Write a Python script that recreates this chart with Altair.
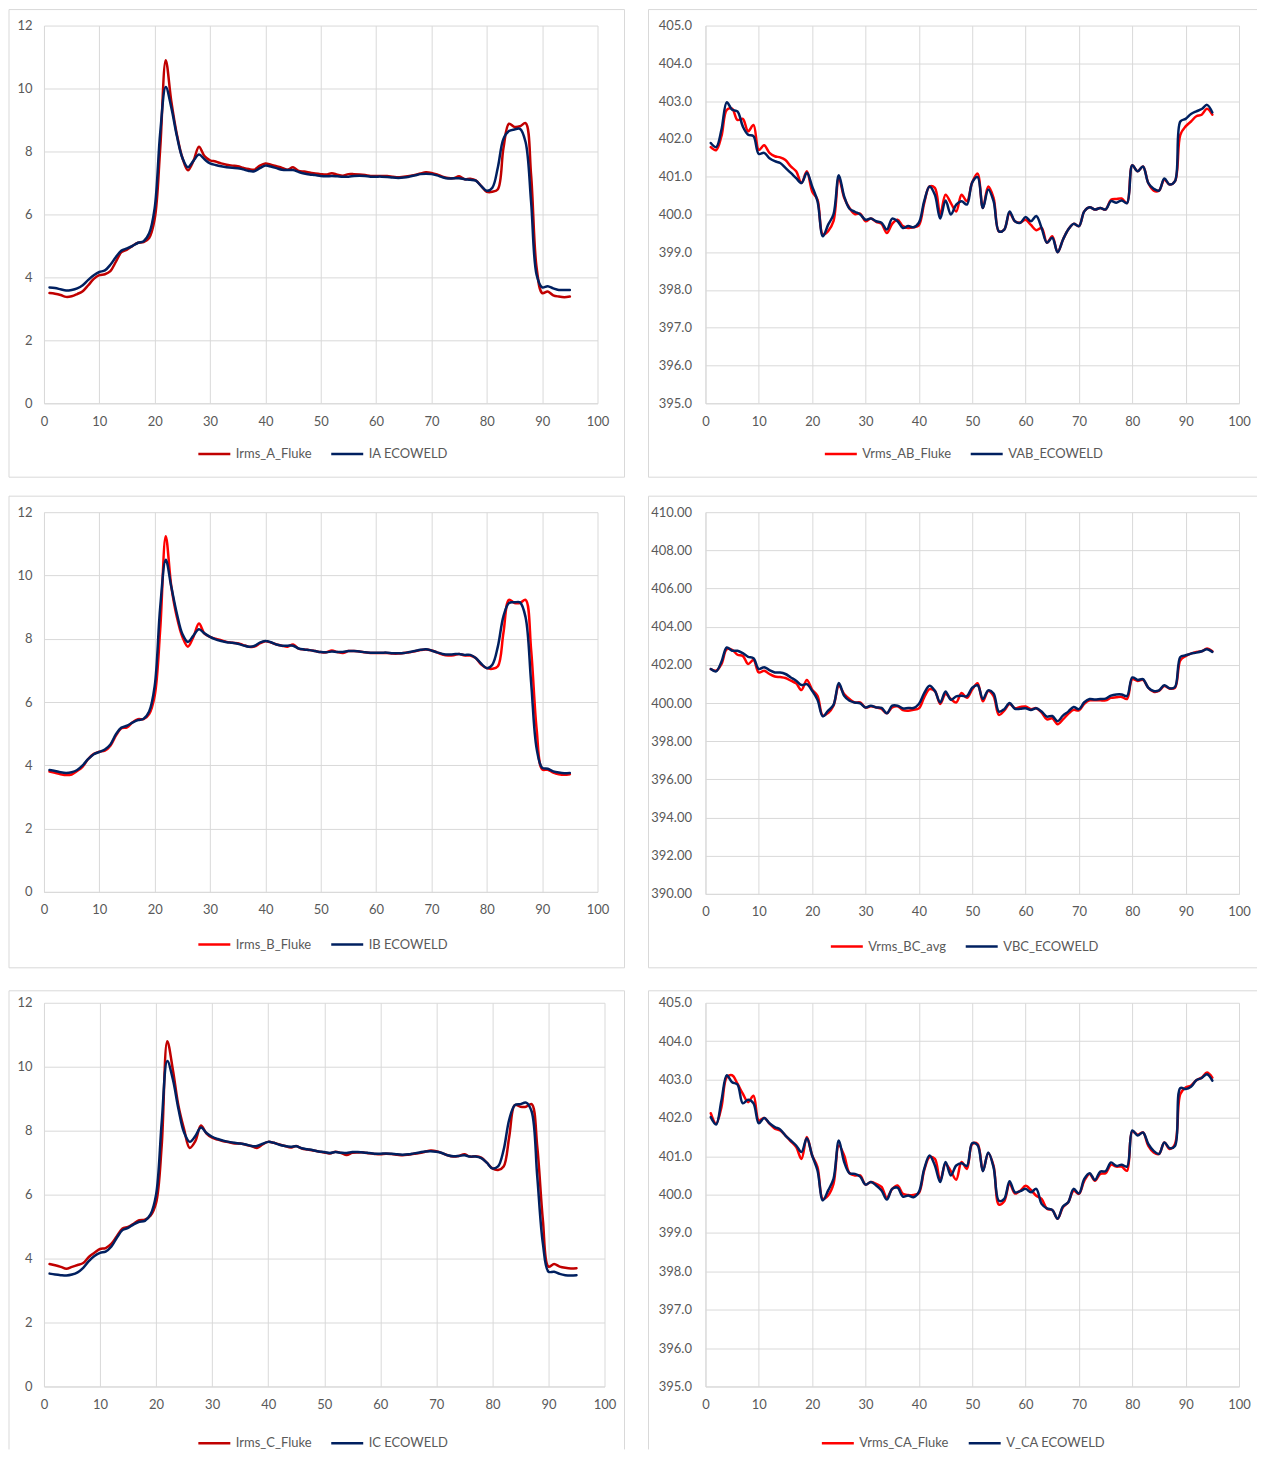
import altair as alt
import pandas as pd

X = list(range(1, 96))

IA_FLUKE = [3.50, 3.48, 3.44, 3.38, 3.40, 3.47, 3.56, 3.75, 3.95, 4.07,
            4.10, 4.20, 4.50, 4.80, 4.88, 5.00, 5.10, 5.12, 5.25, 5.85,
            8.10, 10.90, 9.60, 8.55, 7.80, 7.40, 7.70, 8.15, 7.85, 7.72,
            7.68, 7.62, 7.58, 7.55, 7.53, 7.48, 7.44, 7.42, 7.55, 7.62,
            7.58, 7.53, 7.48, 7.42, 7.50, 7.38, 7.36, 7.33, 7.30, 7.28,
            7.27, 7.31, 7.26, 7.23, 7.28, 7.28, 7.27, 7.25, 7.22, 7.22,
            7.22, 7.22, 7.20, 7.18, 7.20, 7.22, 7.25, 7.30, 7.34, 7.32,
            7.27, 7.20, 7.16, 7.15, 7.21, 7.12, 7.13, 7.08, 6.90, 6.72,
            6.72, 6.80, 8.10, 8.88, 8.78, 8.80, 8.90, 7.25, 4.30, 3.50,
            3.55, 3.43, 3.39, 3.37, 3.39]
IA_ECO = [3.68, 3.66, 3.62, 3.58, 3.60, 3.65, 3.75, 3.92, 4.07, 4.17,
          4.22, 4.40, 4.65, 4.85, 4.92, 5.00, 5.10, 5.15, 5.40, 6.20,
          8.60, 10.05, 9.40, 8.50, 7.80, 7.50, 7.70, 7.90, 7.75, 7.62,
          7.57, 7.53, 7.50, 7.48, 7.47, 7.43, 7.38, 7.37, 7.47, 7.55,
          7.52, 7.47, 7.42, 7.41, 7.41, 7.35, 7.30, 7.27, 7.25, 7.22,
          7.21, 7.22, 7.21, 7.20, 7.20, 7.22, 7.23, 7.22, 7.20, 7.20,
          7.20, 7.19, 7.17, 7.16, 7.17, 7.20, 7.24, 7.28, 7.29, 7.28,
          7.24, 7.18, 7.14, 7.15, 7.15, 7.12, 7.10, 7.07, 6.90, 6.75,
          6.85, 7.50, 8.40, 8.65, 8.70, 8.72, 8.30, 6.40, 4.08, 3.68,
          3.72, 3.65, 3.60, 3.60, 3.60]

VAB_FLUKE = [401.78, 401.70, 402.07, 402.77, 402.80, 402.50, 402.53, 402.20, 402.37, 401.71,
             401.83, 401.63, 401.54, 401.51, 401.44, 401.27, 401.14, 400.83, 401.14, 400.61,
             400.39, 399.47, 399.56, 399.82, 400.96, 400.44, 400.17, 400.01, 400.02, 399.82,
             399.89, 399.80, 399.75, 399.51, 399.75, 399.86, 399.69, 399.64, 399.66, 399.71,
             400.30, 400.74, 400.70, 400.00, 400.52, 400.30, 400.08, 400.52, 400.35, 400.85,
             401.08, 400.17, 400.74, 400.44, 399.55, 399.60, 400.04, 399.82, 399.78, 399.86,
             399.72, 399.58, 399.64, 399.25, 399.42, 399.00, 399.33, 399.60, 399.75, 399.69,
             400.08, 400.19, 400.13, 400.17, 400.13, 400.39, 400.41, 400.42, 400.30, 401.30,
             401.14, 401.27, 400.83, 400.63, 400.63, 400.92, 400.79, 400.88, 402.11, 402.33,
             402.46, 402.60, 402.64, 402.80, 402.64]
VAB_ECO = [401.89, 401.78, 402.24, 402.97, 402.77, 402.73, 402.33, 402.11, 402.07, 401.60,
           401.63, 401.49, 401.41, 401.36, 401.23, 401.10, 400.96, 400.83, 401.10, 400.74,
           400.35, 399.42, 399.73, 400.00, 401.04, 400.48, 400.15, 400.07, 400.00, 399.86,
           399.89, 399.82, 399.78, 399.60, 399.89, 399.82, 399.64, 399.69, 399.66, 399.78,
           400.35, 400.74, 400.52, 399.89, 400.37, 400.00, 400.26, 400.35, 400.26, 400.85,
           400.99, 400.17, 400.66, 400.35, 399.55, 399.60, 400.08, 399.82, 399.78, 399.93,
           399.82, 399.96, 399.64, 399.25, 399.38, 399.00, 399.33, 399.60, 399.75, 399.69,
           400.08, 400.19, 400.13, 400.17, 400.13, 400.35, 400.31, 400.37, 400.30, 401.30,
           401.14, 401.27, 400.83, 400.68, 400.63, 400.95, 400.79, 400.88, 402.46, 402.53,
           402.66, 402.73, 402.79, 402.90, 402.70]

IB_FLUKE = [3.80, 3.76, 3.72, 3.69, 3.71, 3.82, 3.96, 4.20, 4.36, 4.43,
            4.46, 4.62, 4.94, 5.17, 5.20, 5.36, 5.46, 5.46, 5.62, 6.20,
            8.30, 11.24, 9.66, 8.69, 8.06, 7.75, 8.06, 8.48, 8.16, 8.06,
            8.00, 7.95, 7.90, 7.87, 7.86, 7.80, 7.75, 7.75, 7.85, 7.92,
            7.88, 7.82, 7.78, 7.75, 7.82, 7.69, 7.66, 7.64, 7.61, 7.58,
            7.57, 7.63, 7.58, 7.55, 7.61, 7.61, 7.60, 7.57, 7.55, 7.55,
            7.55, 7.55, 7.53, 7.53, 7.55, 7.57, 7.60, 7.64, 7.66, 7.63,
            7.57, 7.50, 7.47, 7.48, 7.52, 7.47, 7.47, 7.39, 7.18, 7.07,
            7.05, 7.13, 8.18, 9.23, 9.13, 9.13, 9.23, 7.66, 5.14, 3.87,
            3.86, 3.77, 3.72, 3.70, 3.72]
IB_ECO = [3.85, 3.82, 3.78, 3.76, 3.78, 3.85, 4.00, 4.20, 4.35, 4.42,
          4.50, 4.66, 4.98, 5.19, 5.25, 5.35, 5.43, 5.47, 5.70, 6.50,
          9.00, 10.50, 9.64, 8.80, 8.15, 7.90, 8.10, 8.30, 8.17, 8.06,
          7.98, 7.93, 7.89, 7.87, 7.84, 7.79, 7.75, 7.77, 7.88, 7.93,
          7.89, 7.82, 7.78, 7.78, 7.78, 7.69, 7.66, 7.64, 7.61, 7.58,
          7.57, 7.60, 7.58, 7.58, 7.61, 7.61, 7.60, 7.57, 7.56, 7.56,
          7.56, 7.56, 7.54, 7.54, 7.55, 7.58, 7.61, 7.65, 7.67, 7.63,
          7.57, 7.52, 7.50, 7.51, 7.52, 7.49, 7.49, 7.39, 7.21, 7.07,
          7.18, 7.76, 8.71, 9.13, 9.15, 9.15, 8.68, 6.63, 4.53, 3.92,
          3.89, 3.81, 3.77, 3.75, 3.76]

VBC_AVG = [401.78, 401.69, 402.04, 402.82, 402.79, 402.53, 402.47, 402.04, 402.25, 401.60,
           401.69, 401.52, 401.39, 401.36, 401.31, 401.17, 401.03, 400.68, 401.20, 400.70,
           400.38, 399.34, 399.48, 399.86, 400.91, 400.47, 400.21, 400.03, 400.03, 399.76,
           399.83, 399.77, 399.69, 399.46, 399.77, 399.83, 399.63, 399.60, 399.65, 399.72,
           400.30, 400.73, 400.63, 399.95, 400.47, 400.21, 400.03, 400.52, 400.27, 400.71,
           401.04, 400.09, 400.63, 400.36, 399.38, 399.60, 399.95, 399.73, 399.79, 399.82,
           399.68, 399.73, 399.50, 399.14, 399.20, 398.89, 399.14, 399.43, 399.64, 399.61,
           399.96, 400.14, 400.14, 400.14, 400.14, 400.27, 400.30, 400.32, 400.21, 401.25,
           401.16, 401.21, 400.80, 400.59, 400.63, 400.89, 400.75, 400.80, 402.23, 402.46,
           402.59, 402.68, 402.71, 402.86, 402.71]
VBC_ECO = [401.78, 401.66, 402.16, 402.91, 402.74, 402.74, 402.61, 402.42, 402.35, 401.78,
           401.88, 401.72, 401.60, 401.60, 401.52, 401.34, 401.17, 400.94, 400.99, 400.64,
           400.17, 399.30, 399.60, 399.90, 401.05, 400.38, 400.12, 400.03, 399.98, 399.77,
           399.86, 399.77, 399.74, 399.46, 399.86, 399.86, 399.72, 399.74, 399.74, 399.95,
           400.52, 400.91, 400.64, 400.03, 400.61, 400.17, 400.35, 400.38, 400.36, 400.80,
           400.93, 400.21, 400.66, 400.50, 399.55, 399.68, 400.00, 399.70, 399.70, 399.73,
           399.64, 399.73, 399.55, 399.29, 399.32, 399.05, 399.34, 399.55, 399.79, 399.68,
           400.04, 400.21, 400.18, 400.21, 400.23, 400.39, 400.45, 400.45, 400.36, 401.34,
           401.21, 401.25, 400.80, 400.63, 400.66, 400.93, 400.77, 400.84, 402.41, 402.50,
           402.59, 402.64, 402.71, 402.82, 402.68]

IC_FLUKE = [3.83, 3.79, 3.74, 3.68, 3.74, 3.80, 3.86, 4.05, 4.18, 4.30,
            4.33, 4.46, 4.70, 4.94, 4.99, 5.09, 5.20, 5.22, 5.34, 5.74,
            7.52, 10.80, 9.90, 8.77, 8.04, 7.46, 7.67, 8.16, 7.91, 7.78,
            7.72, 7.67, 7.64, 7.60, 7.60, 7.56, 7.52, 7.46, 7.57, 7.65,
            7.62, 7.57, 7.52, 7.47, 7.52, 7.44, 7.41, 7.38, 7.35, 7.32,
            7.29, 7.34, 7.30, 7.24, 7.31, 7.32, 7.32, 7.29, 7.27, 7.26,
            7.28, 7.27, 7.25, 7.23, 7.25, 7.28, 7.30, 7.34, 7.38, 7.36,
            7.30, 7.23, 7.19, 7.21, 7.26, 7.19, 7.20, 7.16, 7.00, 6.82,
            6.77, 6.88, 7.81, 8.80, 8.75, 8.75, 8.83, 7.50, 5.21, 3.75,
            3.83, 3.75, 3.71, 3.69, 3.70]
IC_ECO = [3.53, 3.50, 3.48, 3.47, 3.50, 3.57, 3.71, 3.92, 4.08, 4.18,
          4.22, 4.37, 4.65, 4.89, 4.96, 5.07, 5.15, 5.18, 5.38, 6.00,
          8.25, 10.18, 9.60, 8.67, 7.94, 7.65, 7.83, 8.10, 7.93, 7.81,
          7.74, 7.69, 7.65, 7.62, 7.60, 7.57, 7.52, 7.52, 7.59, 7.65,
          7.62, 7.56, 7.52, 7.50, 7.51, 7.45, 7.42, 7.39, 7.35, 7.33,
          7.30, 7.33, 7.31, 7.30, 7.33, 7.33, 7.32, 7.30, 7.28, 7.28,
          7.29, 7.28, 7.26, 7.25, 7.26, 7.29, 7.32, 7.35, 7.36, 7.34,
          7.30, 7.23, 7.20, 7.21, 7.23, 7.19, 7.19, 7.14, 7.00, 6.82,
          6.88, 7.40, 8.35, 8.80, 8.83, 8.88, 8.60, 6.56, 4.48, 3.59,
          3.59, 3.52, 3.48, 3.47, 3.48]

VCA_FLUKE = [402.12, 401.85, 402.28, 403.06, 403.11, 402.89, 402.63, 402.41, 402.58, 401.93,
             402.00, 401.85, 401.72, 401.67, 401.54, 401.39, 401.24, 400.93, 401.50, 401.02,
             400.72, 399.89, 399.98, 400.28, 401.28, 401.02, 400.56, 400.50, 400.50, 400.26,
             400.33, 400.28, 400.20, 399.92, 400.15, 400.24, 400.02, 399.99, 399.99, 400.04,
             400.63, 400.98, 400.93, 400.37, 400.80, 400.61, 400.39, 400.85, 400.67, 401.32,
             401.32, 400.62, 401.08, 400.75, 399.74, 399.83, 400.29, 400.03, 400.10, 400.23,
             400.12, 399.97, 399.89, 399.63, 399.60, 399.37, 399.67, 399.80, 400.10, 400.02,
             400.36, 400.54, 400.36, 400.54, 400.56, 400.78, 400.73, 400.73, 400.62, 401.65,
             401.56, 401.62, 401.27, 401.10, 401.06, 401.36, 401.19, 401.32, 402.62, 402.79,
             402.84, 402.98, 403.05, 403.18, 403.05]
VCA_ECO = [402.02, 401.83, 402.45, 403.11, 402.93, 402.87, 402.38, 402.47, 402.38, 401.86,
           402.00, 401.86, 401.76, 401.70, 401.54, 401.41, 401.28, 401.11, 401.47, 401.02,
           400.63, 399.85, 400.11, 400.41, 401.41, 400.85, 400.56, 400.54, 400.47, 400.26,
           400.33, 400.24, 400.11, 399.87, 400.15, 400.18, 399.95, 399.98, 399.93, 400.07,
           400.67, 401.02, 400.76, 400.33, 400.85, 400.50, 400.76, 400.82, 400.75, 401.34,
           401.29, 400.61, 401.10, 400.71, 399.84, 399.89, 400.35, 400.06, 400.09, 400.15,
           400.06, 400.15, 399.76, 399.64, 399.60, 399.37, 399.69, 399.80, 400.15, 400.03,
           400.41, 400.56, 400.38, 400.60, 400.61, 400.84, 400.75, 400.78, 400.73, 401.67,
           401.54, 401.62, 401.32, 401.14, 401.06, 401.36, 401.21, 401.27, 402.78, 402.75,
           402.81, 402.98, 403.04, 403.14, 402.97]

X_TICKS = [0, 10, 20, 30, 40, 50, 60, 70, 80, 90, 100]
Y_TICKS_I = [0, 2, 4, 6, 8, 10, 12]
Y_TICKS_V = [395, 396, 397, 398, 399, 400, 401, 402, 403, 404, 405]
Y_TICKS_BC = [390, 392, 394, 396, 398, 400, 402, 404, 406, 408, 410]

RED_DARK = "#c00000"
RED = "#ff0000"
NAVY = "#002060"
GRID = "#d9d9d9"
TXT = "#595959"
FONT = "Lato"

ONE = pd.DataFrame({"k": [0]})


def hline(x1, x2, y):
    return alt.Chart(ONE).mark_rule(color=GRID, strokeWidth=1).encode(
        x=alt.value(x1), x2=alt.value(x2), y=alt.value(y))


def vline(x, y1, y2):
    return alt.Chart(ONE).mark_rule(color=GRID, strokeWidth=1).encode(
        x=alt.value(x), y=alt.value(y1), y2=alt.value(y2))


def panel(red_vals, blue_vals, red_name, blue_name, red_color, yticks, yfmt,
          w, h, frame, leg, ylabpad, right_edge=True, bottom_edge=True):
    red_df = pd.DataFrame({"x": X, "v": red_vals, "s": red_name})
    blue_df = pd.DataFrame({"x": X, "v": blue_vals, "s": blue_name})
    xenc = alt.X("x:Q", scale=alt.Scale(domain=[0, 100], nice=False, zero=False),
                 axis=alt.Axis(values=X_TICKS, title=None, labelFlush=False,
                               labelPadding=12))
    yenc = alt.Y("v:Q", scale=alt.Scale(domain=[yticks[0], yticks[-1]], nice=False, zero=False),
                 axis=alt.Axis(values=yticks, format=yfmt, title=None,
                               labelFlush=False, labelPadding=ylabpad))
    cenc = alt.Color("s:N",
                     scale=alt.Scale(domain=[red_name, blue_name], range=[red_color, NAVY]),
                     legend=alt.Legend(orient="none", direction="horizontal",
                                       legendX=leg[0], legendY=leg[1], title=None,
                                       symbolType="stroke", symbolSize=1024,
                                       symbolStrokeWidth=2.5, labelFontSize=13,
                                       labelColor=TXT, labelFont=FONT,
                                       columnPadding=14, labelOffset=4, padding=0))
    fl, fr, ft, fb = frame
    x1, x2, y1, y2 = fl, w + fr, ft, h + fb
    edges = [hline(x1, x2, y1), vline(x1, y1, y2)]
    if right_edge:
        edges.append(vline(x2, y1, y2))
    if bottom_edge:
        edges.append(hline(x1, x2, y2))

    def line(df):
        return alt.Chart(df).mark_line(
            strokeWidth=2.5, interpolate="catmull-rom", strokeCap="round", strokeJoin="round"
        ).encode(x=xenc, y=yenc, color=cenc)

    return alt.layer(*edges, line(red_df), line(blue_df)).properties(width=w, height=h)


p1 = panel(IA_FLUKE, IA_ECO, "Irms_A_Fluke", "IA ECOWELD", RED_DARK, Y_TICKS_I, "d",
           554, 378, (-35, 27, -16, 74), (153, 411), 12)
p2 = panel(VAB_FLUKE, VAB_ECO, "Vrms_AB_Fluke", "VAB_ECOWELD", RED, Y_TICKS_V, ".1f",
           534, 378, (-57, 18, -16, 74), (118, 411), 14, right_edge=False)
p3 = panel(IB_FLUKE, IB_ECO, "Irms_B_Fluke", "IB ECOWELD", RED, Y_TICKS_I, "d",
           554, 380, (-35, 27, -16, 76), (153, 415), 12)
p4 = panel(VBC_AVG, VBC_ECO, "Vrms_BC_avg", "VBC_ECOWELD", RED, Y_TICKS_BC, ".2f",
           534, 382, (-57, 18, -16, 74), (124, 417), 14, right_edge=False)
p5 = panel(IC_FLUKE, IC_ECO, "Irms_C_Fluke", "IC ECOWELD", RED_DARK, Y_TICKS_I, "d",
           561, 384, (-35, 20, -12, 63), (153, 423), 12, bottom_edge=False)
p6 = panel(VCA_FLUKE, VCA_ECO, "Vrms_CA_Fluke", "V_CA ECOWELD", RED, Y_TICKS_V, ".1f",
           534, 384, (-57, 18, -12, 63), (115, 423), 14, right_edge=False, bottom_edge=False)

chart = alt.concat(
    p1, p2, p3, p4, p5, p6, columns=2,
    spacing={"row": 109, "column": 101}, bounds="flush", align="each"
).resolve_scale(
    x="independent", y="independent", color="independent"
).resolve_axis(
    x="independent", y="independent"
).resolve_legend(
    color="independent"
).properties(
    padding=0
).configure_view(
    stroke=None
).configure_axis(
    gridColor=GRID, domainColor=GRID, ticks=False, labelColor=TXT,
    labelFont=FONT, labelFontSize=13, gridWidth=1, domainWidth=1
)

chart.save("out.html", embed_options={"renderer": "svg", "actions": False})
